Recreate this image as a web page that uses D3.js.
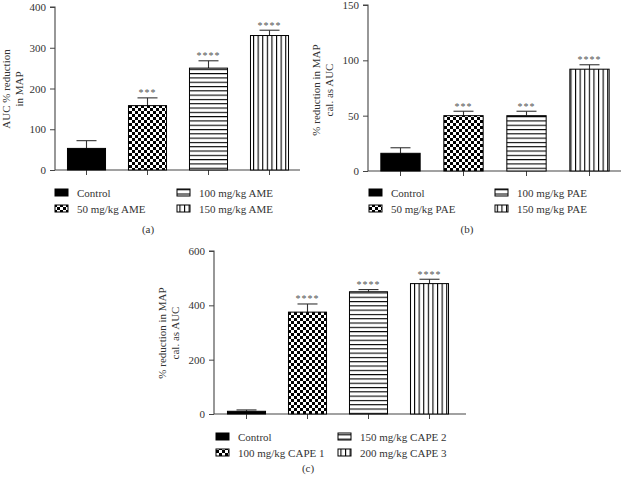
<!DOCTYPE html>
<html>
<head>
<meta charset="utf-8">
<script src="https://cdn.jsdelivr.net/npm/d3@7"></script>
<style>
  html, body { margin: 0; padding: 0; background: #fff; }
  svg { display: block; }
  text { font-family: "Liberation Serif", "DejaVu Serif", serif; fill: #333; }
</style>
</head>
<body>
<svg id="chart" width="622" height="479"></svg>
<script>
// ---------- Data ----------
const categoriesA = ["Control", "50 mg/kg AME", "100 mg/kg AME", "150 mg/kg AME"];
const meansA = [53, 158, 250, 330];
const errorsA = [19, 19, 18, 13];
const starsA = ["", "***", "****", "****"];
const ticksA = [0, 100, 200, 300, 400];
const yLabelA = ["AUC % reduction", "in MAP"];

const categoriesB = ["Control", "50 mg/kg PAE", "100 mg/kg PAE", "150 mg/kg PAE"];
const meansB = [16, 50, 50, 92];
const errorsB = [5, 4, 4, 4];
const starsB = ["", "***", "***", "****"];
const ticksB = [0, 50, 100, 150];
const yLabelB = ["% reduction in MAP", "cal. as AUC"];

const categoriesC = ["Control", "100 mg/kg CAPE 1", "150 mg/kg CAPE 2", "200 mg/kg CAPE 3"];
const meansC = [10, 375, 450, 480];
const errorsC = [5, 30, 8, 16];
const starsC = ["", "****", "****", "****"];
const ticksC = [0, 200, 400, 600];
const yLabelC = ["% reduction in MAP", "cal. as AUC"];

const patternIds = ["solid", "checker", "hstripe", "vstripe"];

// ---------- Drawing ----------
const svg = d3.select("#chart");
const defs = svg.append("defs");

// checkerboard
const pc = defs.append("pattern").attr("id", "checker").attr("patternUnits", "userSpaceOnUse")
  .attr("width", 6).attr("height", 6);
pc.append("rect").attr("width", 6).attr("height", 6).attr("fill", "#fff");
pc.append("rect").attr("width", 3).attr("height", 3).attr("fill", "#000");
pc.append("rect").attr("x", 3).attr("y", 3).attr("width", 3).attr("height", 3).attr("fill", "#000");
// horizontal stripes
const ph = defs.append("pattern").attr("id", "hstripe").attr("patternUnits", "userSpaceOnUse")
  .attr("width", 8).attr("height", 4.3);
ph.append("rect").attr("width", 8).attr("height", 4.3).attr("fill", "#fff");
ph.append("rect").attr("y", 0).attr("width", 8).attr("height", 1.1).attr("fill", "#000");
// vertical stripes
const pv = defs.append("pattern").attr("id", "vstripe").attr("patternUnits", "userSpaceOnUse")
  .attr("width", 4.6).attr("height", 8);
pv.append("rect").attr("width", 4.6).attr("height", 8).attr("fill", "#fff");
pv.append("rect").attr("x", 0).attr("width", 1.1).attr("height", 8).attr("fill", "#000");

function fillFor(i) {
  return patternIds[i] === "solid" ? "#000" : `url(#${patternIds[i]})`;
}

function drawPanel(cfg) {
  const g = svg.append("g");
  const y = d3.scaleLinear().domain([cfg.ticks[0], cfg.ticks[cfg.ticks.length - 1]]).range([cfg.yBottom, cfg.yTop]);
  const x = d3.scaleBand().domain(cfg.categories).range([cfg.bandStart, cfg.bandEnd]).paddingInner(0.36).paddingOuter(0.18);

  // y axis
  const yAxis = d3.axisLeft(y).tickValues(cfg.ticks).tickSize(5).tickPadding(4).tickFormat(d3.format("d"));
  const ya = g.append("g").attr("transform", `translate(${cfg.axisX},0)`).call(yAxis);
  ya.select(".domain").attr("stroke", "#444").attr("stroke-width", 1.1).attr("d", `M-5,${cfg.yTop}H0V${cfg.yBottom}`);
  ya.selectAll(".tick line").attr("stroke", "#444");
  ya.selectAll(".tick text").style("font-size", "11px").attr("fill", "#333");

  // x axis line
  g.append("line").attr("x1", cfg.axisX).attr("x2", cfg.axisEnd).attr("y1", cfg.yBottom).attr("y2", cfg.yBottom)
    .attr("stroke", "#444").attr("stroke-width", 1.1);
  const xa = d3.axisBottom(x).tickSize(5).tickFormat("");
  const xg = g.append("g").attr("transform", `translate(0,${cfg.yBottom})`).call(xa);
  xg.select(".domain").remove();
  xg.selectAll(".tick line").attr("stroke", "#444");

  // error bars (upper only)
  cfg.categories.forEach((c, i) => {
    const cx = x(c) + x.bandwidth() / 2;
    const top = y(cfg.means[i] + cfg.errors[i]);
    g.append("line").attr("x1", cx).attr("x2", cx).attr("y1", y(cfg.means[i])).attr("y2", top)
      .attr("stroke", "#333").attr("stroke-width", 1.1);
    g.append("line").attr("x1", cx - 10).attr("x2", cx + 10).attr("y1", top).attr("y2", top)
      .attr("stroke", "#333").attr("stroke-width", 1.1);
    if (cfg.stars[i]) {
      g.append("text").attr("x", cx).attr("y", top - 1.5).attr("text-anchor", "middle")
        .style("font-size", "10px").style("letter-spacing", "1px").style("fill", "#555").text(cfg.stars[i]);
    }
  });

  // bars
  g.selectAll("rect.bar").data(cfg.categories).enter().append("rect").attr("class", "bar")
    .attr("x", d => x(d) + 0.5).attr("width", x.bandwidth() - 1)
    .attr("y", (d, i) => y(cfg.means[i])).attr("height", (d, i) => cfg.yBottom - y(cfg.means[i]))
    .attr("fill", (d, i) => fillFor(i)).attr("stroke", "#000").attr("stroke-width", 1);

  // y label
  const lbl = g.append("text").attr("transform", `translate(${cfg.labelX},${cfg.labelY}) rotate(-90)`)
    .attr("text-anchor", "middle").style("font-size", "11px");
  cfg.yLabel.forEach((t, k) => lbl.append("tspan").attr("x", 0).attr("dy", k === 0 ? 0 : 13).text(t));

  // legend
  const legendPos = [[0, 0], [0, 1], [1, 0], [1, 1]];
  cfg.categories.forEach((c, i) => {
    const [col, row] = legendPos[i];
    const lx = cfg.legendX[col];
    const ly = cfg.legendY + row * 16;
    g.append("rect").attr("x", lx).attr("y", ly - 4).attr("width", 13).attr("height", 7)
      .attr("fill", fillFor(i)).attr("stroke", "#000").attr("stroke-width", 1);
    g.append("text").attr("x", lx + 22).attr("y", ly + 3.5).style("font-size", "11px").text(c);
  });

  // panel letter
  g.append("text").attr("x", cfg.letterX).attr("y", cfg.letterY).attr("text-anchor", "middle")
    .style("font-size", "11px").text(cfg.letter);
}

drawPanel({
  categories: categoriesA, means: meansA, errors: errorsA, stars: starsA, ticks: ticksA, yLabel: yLabelA,
  axisX: 55, axisEnd: 300, bandStart: 56, bandEnd: 300, yBottom: 170, yTop: 7,
  labelX: 10, labelY: 89, legendX: [55, 177], legendY: 193, letter: "(a)", letterX: 148, letterY: 233
});
drawPanel({
  categories: categoriesB, means: meansB, errors: errorsB, stars: starsB, ticks: ticksB, yLabel: yLabelB,
  axisX: 368, axisEnd: 621, bandStart: 369, bandEnd: 621, yBottom: 171, yTop: 5,
  labelX: 320, labelY: 90, legendX: [369, 495], legendY: 193, letter: "(b)", letterX: 467, letterY: 233
});
drawPanel({
  categories: categoriesC, means: meansC, errors: errorsC, stars: starsC, ticks: ticksC, yLabel: yLabelC,
  axisX: 214, axisEnd: 466, bandStart: 216, bandEnd: 460, yBottom: 414, yTop: 251,
  labelX: 166, labelY: 333, legendX: [216, 338], legendY: 437, letter: "(c)", letterX: 308, letterY: 472
});
</script>
</body>
</html>
